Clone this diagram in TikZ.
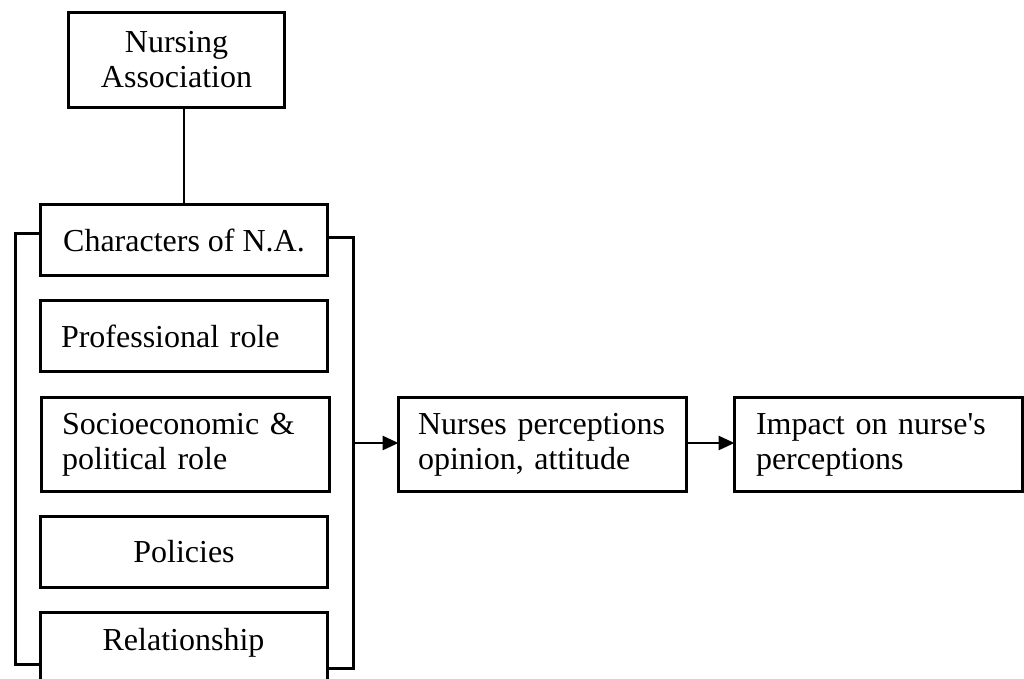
\documentclass[tikz,border=0pt]{standalone}
\usepackage{fontspec}
\setmainfont{Liberation Serif}
\usetikzlibrary{arrows.meta}
\begin{document}
\begin{tikzpicture}[x=1pt,y=-1pt,
  box/.style={draw, line width=3.4pt, anchor=north west, inner sep=0pt, outer sep=0pt, font=\fontsize{32}{35}\selectfont},
  cbox/.style={box, align=center},
  lbox/.style={box, align=left},
  txt/.style={inner sep=0pt, font=\fontsize{32}{35}\selectfont},
  conn/.style={line width=2.2pt},
  brk/.style={line width=3pt, line join=miter},
  arr/.style={line width=2.8pt, -{Triangle[length=16pt,width=14pt]}}]
\clip (0,0) rectangle (1024,679);
\fill[white] (0,0) rectangle (1024,679);
\node[cbox, minimum width=216pt, minimum height=95pt] (na) at (68.5,12.5) {Nursing\\Association};
\node[cbox, minimum width=287pt, minimum height=71pt] (ch) at (40.5,204.5) {Characters of N.A.};
\node[lbox, minimum width=287pt, minimum height=71pt, inner xsep=20.5pt, text width=246pt] (pr) at (40.5,300.5) {Professional role};
\node[lbox, minimum width=288pt, minimum height=94pt, inner xsep=20.5pt, text width=247pt] (so) at (41.5,397.5) {Socioeconomic \&\\political role};
\node[cbox, minimum width=287pt, minimum height=71pt] (po) at (40.5,516.5) {Policies};
\node[box, minimum width=287pt, minimum height=100pt] (re) at (40.5,612.5) {};
\node[txt] (ret) at (183.5,643) {Relationship};
\node[lbox, minimum width=288pt, minimum height=94pt, inner xsep=19.5pt, text width=249pt] (np) at (398.5,397.5) {Nurses perceptions\\opinion, attitude};
\node[lbox, minimum width=288pt, minimum height=94pt, inner xsep=21.5pt, text width=245pt] (im) at (734.5,397.5) {Impact on nurse\textquotesingle s\\perceptions};
\draw[conn] (ch.north |- na.south) -- (ch.north);
\draw[brk] (ch.west |- 0,233) -- (15.5,233) -- (15.5,664) -- (re.west |- 0,664);
\draw[brk] (ch.east |- 0,237) -- (353.5,237) -- (353.5,668) -- (re.east |- 0,668);
\coordinate (br) at (353.5,443);
\draw[arr] (br) -- (br -| np.west);
\draw[arr] (np.east |- br) -- (im.west |- br);
\end{tikzpicture}
\end{document}
